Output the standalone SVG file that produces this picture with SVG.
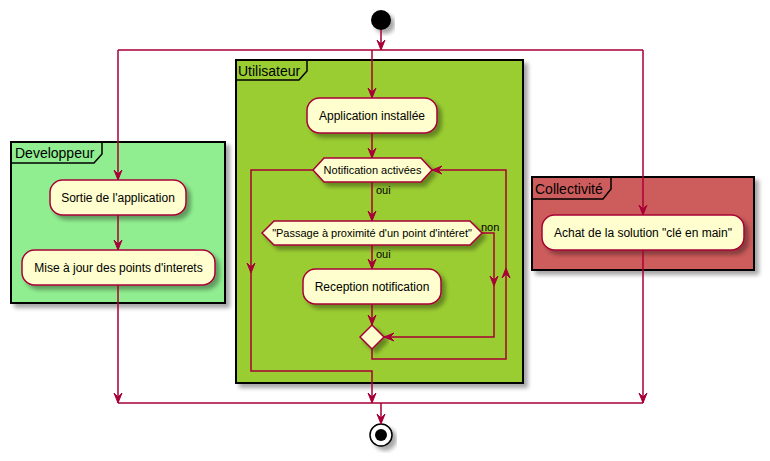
<svg xmlns="http://www.w3.org/2000/svg" xmlns:xlink="http://www.w3.org/1999/xlink" width="770" height="461" viewBox="0 0 770 461">
<style>
.part{stroke:#000;stroke-width:2;}
.tab{fill:none;stroke:#000;stroke-width:1.5;}
.ptitle{font-family:"Liberation Sans",Arial,sans-serif;font-size:14px;fill:#000;}
.act{fill:#FEFECE;stroke:#A80036;stroke-width:1.5;}
.t12{font-family:"Liberation Sans",Arial,sans-serif;font-size:12px;fill:#000;text-anchor:middle;}
.t11{font-family:"Liberation Sans",Arial,sans-serif;font-size:11px;fill:#000;}
.ln{fill:none;stroke:#A80036;stroke-width:1.5;}
.ah{fill:#A80036;stroke:#A80036;stroke-width:1;}
</style>
<defs>
<filter id="sh" x="-10%" y="-10%" width="130%" height="140%">
<feGaussianBlur in="SourceAlpha" stdDeviation="2" result="b"/>
<feOffset in="b" dx="4" dy="4" result="o"/>
<feComponentTransfer in="o" result="c"><feFuncA type="linear" slope="0.35"/></feComponentTransfer>
<feMerge><feMergeNode in="c"/><feMergeNode in="SourceGraphic"/></feMerge>
</filter>
<path id="ar" d="M-4,-10 L0,0 L4,-10 L0,-6 Z"/>
</defs>
<rect width="770" height="461" fill="#FFFFFF"/>

<g id="partition-developpeur">
<rect class="part" x="11" y="142" width="214" height="161" fill="#90EE90" filter="url(#sh)"/>
<polyline class="tab" points="11,163 94,163 102,154 102,142"/>
<text class="ptitle" x="15" y="158">Developpeur</text>
</g>
<g id="partition-utilisateur">
<rect class="part" x="236" y="60" width="287" height="323" fill="#9ACD32" filter="url(#sh)"/>
<polyline class="tab" points="236,80 299,80 307,71 307,60"/>
<text class="ptitle" x="238" y="76">Utilisateur</text>
</g>
<g id="partition-collectivite">
<rect class="part" x="532" y="177" width="222" height="93" fill="#CD5C5C" filter="url(#sh)"/>
<polyline class="tab" points="532,199 603,199 611,189 611,177"/>
<text class="ptitle" x="535" y="194">Collectivité</text>
</g>

<g id="start"><circle cx="381" cy="20" r="10" fill="#000" filter="url(#sh)"/></g>
<g id="stop"><circle cx="381" cy="435" r="11" fill="#FFF" stroke="#000" stroke-width="1.5" filter="url(#sh)"/><circle cx="381" cy="435" r="6" fill="#000"/></g>

<g id="sortie"><rect class="act" x="50" y="180" width="136" height="35" rx="12.5" filter="url(#sh)"/><text class="t12" x="118" y="202">Sortie de l'application</text></g>
<g id="maj"><rect class="act" x="22" y="250" width="193" height="35" rx="12.5" filter="url(#sh)"/><text class="t12" x="118.5" y="272">Mise à jour des points d'interets</text></g>
<g id="app"><rect class="act" x="307" y="98" width="130" height="35" rx="12.5" filter="url(#sh)"/><text class="t12" x="372" y="120">Application installée</text></g>
<g id="notif"><polygon class="act" points="313,170 324,158 421,158 432,170 421,182 324,182" filter="url(#sh)"/><text class="t11" x="372.5" y="174" text-anchor="middle">Notification activées</text></g>
<g id="passage"><polygon class="act" points="262,233 274,221 470,221 482,233 470,245 274,245" filter="url(#sh)"/><text class="t11" x="372" y="237" text-anchor="middle">"Passage à proximité d'un point d'intéret"</text></g>
<g id="reception"><rect class="act" x="303" y="269" width="138" height="35" rx="12.5" filter="url(#sh)"/><text class="t12" x="372" y="291">Reception notification</text></g>
<g id="merge"><polygon class="act" points="372,325 384,337 372,349 360,337" filter="url(#sh)"/></g>
<g id="achat"><rect class="act" x="542" y="215" width="202" height="35" rx="12.5" filter="url(#sh)"/><text class="t12" x="643" y="237">Achat de la solution "clé en main"</text></g>

<g id="connectors">
<path class="ln" d="M381,30 V50 M118,50 H643 M118,50 V180 M372,50 V98 M643,50 V215 M118,215 V250"/>
<path class="ln" d="M372,133 V158 M372,182 V221 M372,245 V269 M372,304 V325"/>
<path class="ln" d="M313,170 H251 V371 H372 V403"/>
<path class="ln" d="M482,233 H494 V337 H384"/>
<path class="ln" d="M372,349 V359 H506 V170 H432"/>
<path class="ln" d="M118,285 V403 M643,250 V403 M118,403 H643 M381,403 V424"/>
<use href="#ar" class="ah" transform="translate(381,50)"/>
<use href="#ar" class="ah" transform="translate(118,180)"/>
<use href="#ar" class="ah" transform="translate(118,250)"/>
<use href="#ar" class="ah" transform="translate(372,98)"/>
<use href="#ar" class="ah" transform="translate(643,215)"/>
<use href="#ar" class="ah" transform="translate(372,158)"/>
<use href="#ar" class="ah" transform="translate(372,221)"/>
<use href="#ar" class="ah" transform="translate(372,269)"/>
<use href="#ar" class="ah" transform="translate(372,325)"/>
<use href="#ar" class="ah" transform="translate(251,273)"/>
<use href="#ar" class="ah" transform="translate(494,286)"/>
<use href="#ar" class="ah" transform="translate(384,337) rotate(90)"/>
<use href="#ar" class="ah" transform="translate(506,268) rotate(180)"/>
<use href="#ar" class="ah" transform="translate(432,170) rotate(90)"/>
<use href="#ar" class="ah" transform="translate(118,403)"/>
<use href="#ar" class="ah" transform="translate(372,403)"/>
<use href="#ar" class="ah" transform="translate(643,403)"/>
<use href="#ar" class="ah" transform="translate(381,424)"/>
<text class="t11" x="376" y="194">oui</text>
<text class="t11" x="376" y="258">oui</text>
<text class="t11" x="481" y="231">non</text>
</g>
</svg>
